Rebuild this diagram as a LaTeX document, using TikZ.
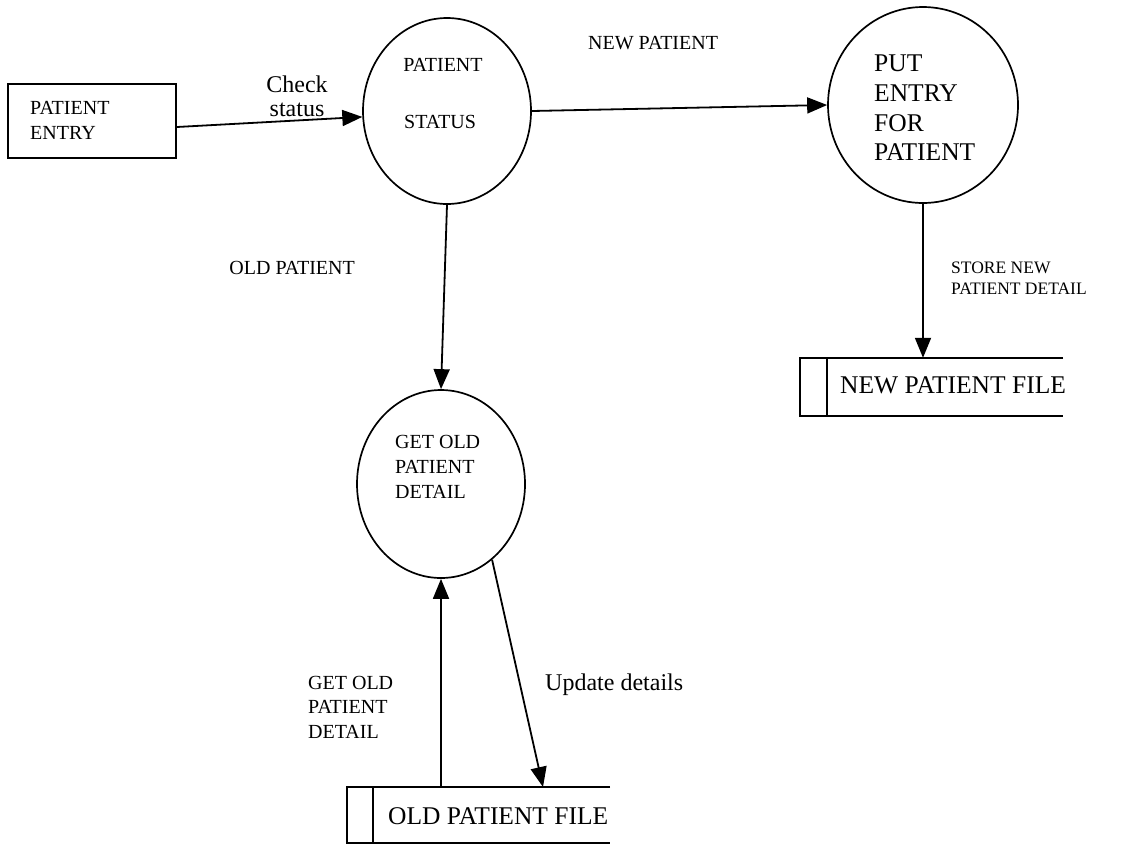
\documentclass[tikz,border=0pt]{standalone}
\usepackage{fontspec}
\setmainfont{Liberation Serif}
\usetikzlibrary{shapes.geometric,arrows.meta}
\begin{document}
\begin{tikzpicture}[x=1pt,y=-1pt,
  proc/.style={ellipse,draw,line width=1.7pt,inner sep=0pt},
  flow/.style={line width=1.8pt,-{Triangle[length=20pt,width=16pt]}},
  storeline/.style={line width=1.8pt},
  lbl/.style={inner sep=0pt,font=\fontsize{20}{24}\selectfont},
  smlbl/.style={inner sep=0pt,font=\fontsize{17.5}{21}\selectfont},
  biglbl/.style={inner sep=0pt,font=\fontsize{25.5}{30}\selectfont},
  flbl/.style={inner sep=0pt,font=\fontsize{24}{28}\selectfont}]
\useasboundingbox (0,0) rectangle (1124,847);
% processes
\node[proc,minimum width=168pt,minimum height=186pt] (status) at (447,111) {};
\node[proc,minimum width=190pt,minimum height=196pt] (putentry) at (923,105) {};
\node[proc,minimum width=168pt,minimum height=188pt] (getold) at (441,484) {};
% external entity
\node[draw,line width=1.7pt,minimum width=168pt,minimum height=74pt,inner sep=0pt] (entry) at (92,121) {};
% data stores
\node[minimum width=263pt,minimum height=58pt,inner sep=0pt] (newfile) at (931.5,387) {};
\draw[storeline] (newfile.north east) -- (newfile.north west) -- (newfile.south west) -- (newfile.south east);
\draw[storeline] ([xshift=27pt]newfile.north west) -- ([xshift=27pt]newfile.south west);
\node[minimum width=263pt,minimum height=56pt,inner sep=0pt] (oldfile) at (478.5,815) {};
\draw[storeline] (oldfile.north east) -- (oldfile.north west) -- (oldfile.south west) -- (oldfile.south east);
\draw[storeline] ([xshift=26pt]oldfile.north west) -- ([xshift=26pt]oldfile.south west);
% texts inside shapes
\node[lbl,anchor=west] (e1) at (30,108) {PATIENT};
\node[lbl,anchor=west] (e2) at (30,133) {ENTRY};
\node[lbl] (s1) at (443,65) {PATIENT};
\node[lbl] (s2) at (440,122) {STATUS};
\node[biglbl,anchor=west] (p1) at (874,63) {PUT};
\node[biglbl,anchor=west] (p2) at (874,93) {ENTRY};
\node[biglbl,anchor=west] (p3) at (874,123) {FOR};
\node[biglbl,anchor=west] (p4) at (874,152) {PATIENT};
\node[lbl,anchor=west] (g1) at (395,442) {GET OLD};
\node[lbl,anchor=west] (g2) at (395,467) {PATIENT};
\node[lbl,anchor=west] (g3) at (395,492) {DETAIL};
\node[biglbl,anchor=west] (nf) at (840,385) {NEW PATIENT FILE};
\node[biglbl,anchor=west] (of) at (388,816) {OLD PATIENT FILE};
% flows
\coordinate (updend) at (543,787);
\draw[flow] ([yshift=-6pt]entry.east) -- (status.184);
\draw[flow] (status.east) -- (putentry.west);
\draw[flow] (status.south) -- (getold.north);
\draw[flow] (putentry.south) -- (putentry.south |- newfile.north);
\draw[flow] (oldfile.north -| getold.south) -- (getold.south);
\draw[flow] (getold.-56) -- (updend);
% flow labels
\node[flbl] (c1) at (297,84) {Check};
\node[flbl] (c2) at (297,110) {status};
\node[lbl,anchor=west] (np) at (588,43) {NEW PATIENT};
\node[lbl,anchor=east] (op) at (355,268) {OLD PATIENT};
\node[smlbl,anchor=west] (sn1) at (951,268) {STORE NEW};
\node[smlbl,anchor=west] (sn2) at (951,289) {PATIENT DETAIL};
\node[lbl,anchor=west] (gl1) at (308,683) {GET OLD};
\node[lbl,anchor=west] (gl2) at (308,707) {PATIENT};
\node[lbl,anchor=west] (gl3) at (308,732) {DETAIL};
\node[flbl,anchor=west] (ud) at (545,685) {Update details};
\end{tikzpicture}
\end{document}
